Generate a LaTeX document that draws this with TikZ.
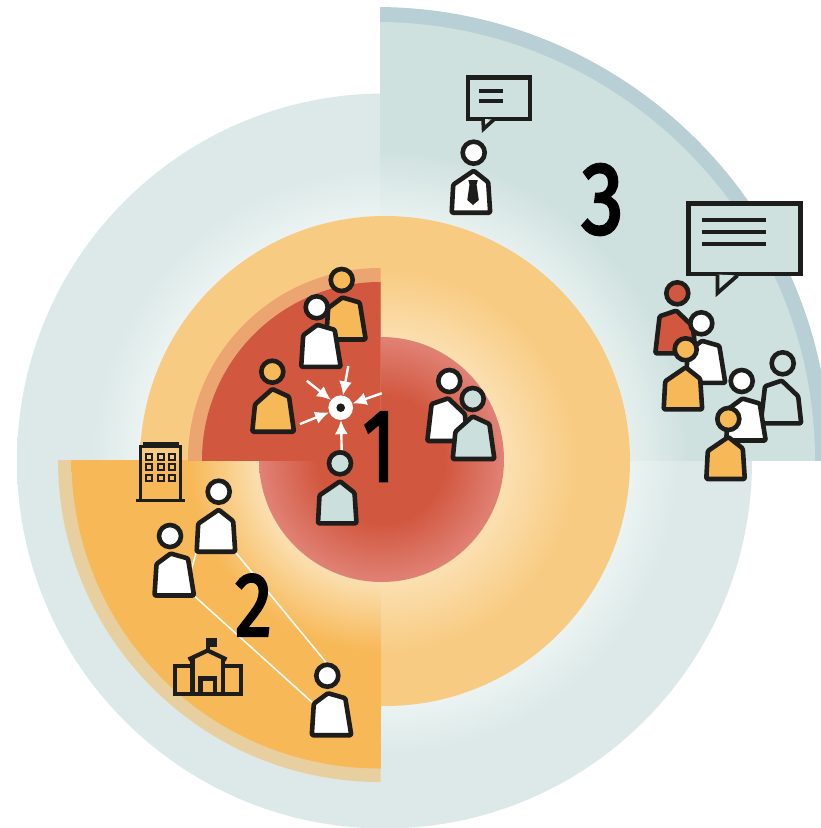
\documentclass[tikz,border=0pt]{standalone}
\usepackage{fontspec}
\usetikzlibrary{arrows.meta}
\newfontfamily\digitfont[FakeBold=3.2]{Fira Sans}
\definecolor{ink}{HTML}{1D1D1B}
\definecolor{redc}{HTML}{D2573F}
\definecolor{redl}{HTML}{E08276}
\definecolor{orgc}{HTML}{F7B857}
\definecolor{orgring}{HTML}{F8CB82}
\definecolor{orgl}{HTML}{FBDFB0}
\definecolor{tealc}{HTML}{CFE1DF}
\definecolor{teall}{HTML}{E8F2F0}
\definecolor{ringl}{HTML}{EAF3F1}
\definecolor{ringc}{HTML}{DCE9E8}
\definecolor{greyp}{HTML}{CBDFDC}
\definecolor{bandt}{HTML}{B8CFD5}
\definecolor{bando}{HTML}{E8CFA0}
\definecolor{bandr}{HTML}{EAA571}
% stops: 25bp = radius of the circle shaded
\pgfdeclareradialshading{ringshade}{\pgfpoint{0bp}{0bp}}{color(0bp)=(ringl);color(16.7bp)=(ringl);color(20bp)=(ringc);color(25bp)=(ringc);color(50bp)=(ringc)}
\pgfdeclareradialshading{sectorthree}{\pgfpoint{0bp}{0bp}}{color(0bp)=(teall);color(13.9bp)=(teall);color(17.7bp)=(tealc);color(25bp)=(tealc);color(50bp)=(tealc)}
\pgfdeclareradialshading{orangeshade}{\pgfpoint{0bp}{0bp}}{color(0bp)=(orgl);color(12.5bp)=(orgl);color(19.5bp)=(orgring);color(25bp)=(orgring);color(50bp)=(orgring)}
\pgfdeclareradialshading{sectortwo}{\pgfpoint{0bp}{0bp}}{color(0bp)=(orgl);color(9.9bp)=(orgl);color(15.5bp)=(orgc);color(25bp)=(orgc);color(50bp)=(orgc)}
\pgfdeclareradialshading{redshade}{\pgfpoint{0bp}{0bp}}{color(0bp)=(redc);color(13bp)=(redc);color(25bp)=(redl);color(50bp)=(redl)}
\tikzset{
  outline/.style={draw=ink,line width=4.6pt,line join=round,rounded corners=1.2pt},
  headring/.style={draw=ink,line width=4.6pt},
  icon/.style={draw=ink,line width=3pt},
  iconfat/.style={draw=ink,line width=4.2pt},
  bubble/.style={draw=ink,line width=4.4pt,fill=tealc,line join=miter},
  barline/.style={draw=ink,line width=4.2pt},
  pointer/.style={draw=white,line width=2.4pt,-{Latex[length=14pt,width=13pt]}},
  digit/.style={inner sep=0pt,text=black},
}
\newcommand{\personP}[3]{\begin{scope}[shift={(#1,#2)}]
  \draw[outline,fill=#3] (-22,60)--(-20.5,32)--(0,18)--(14.5,29.5)--(16.5,60)--cycle;
  \draw[headring,fill=#3] (0,0) circle (11);\end{scope}}
\newcommand{\personQ}[3]{\begin{scope}[shift={(#1,#2)}]
  \draw[outline,fill=#3] (-15.5,59.5)--(-13.5,28)--(0.7,17.5)--(18,22.5)--(24,59.5)--cycle;
  \draw[headring,fill=#3] (0,0) circle (11);\end{scope}}
\newcommand{\personM}[3]{\begin{scope}[shift={(#1,#2)}]
  \draw[outline,fill=#3] (-22,60)--(-17.7,23)--(-1,17.3)--(15.5,33)--(18.5,60)--cycle;
  \draw[headring,fill=#3] (0,0) circle (11);\end{scope}}
\newcommand{\personR}[3]{\begin{scope}[shift={(#1,#2)}]
  \draw[outline,fill=#3] (-20,60)--(-17.3,32.7)--(0,17.3)--(16.7,25)--(21.7,60)--cycle;
  \draw[headring,fill=#3] (0,0) circle (11);\end{scope}}
\begin{document}
\begin{tikzpicture}[x=1pt,y=-1pt]
\useasboundingbox (0,0) rectangle (821,828);
\clip (0,0) rectangle (821,828);
\fill[white] (0,0) rectangle (821,828);
% outer ring
\shade[shading=ringshade] (384.5,461) circle (367.5);
% sector 3
\begin{scope}
  \clip (380,0) rectangle (821,460);
  \fill[bandt] (376,461) circle (454);
  \shade[shading=sectorthree] (376,461) circle (439);
\end{scope}
% orange disc
\shade[shading=orangeshade] (385,461) circle (245);
% sector 2
\begin{scope}
  \clip (0,460) rectangle (380.5,828);
  \fill[bando] (380,460) circle (322);
  \shade[shading=sectortwo] (380,460) circle (308.5);
\end{scope}
% red disc
\shade[shading=redshade] (381.5,459.5) circle (122.5);
% sector 1
\begin{scope}
  \clip (0,0) rectangle (380.5,460);
  \fill[bandr] (380,460) circle (192);
  \fill[redc] (380,460) circle (178);
\end{scope}
% thin links
\coordinate (linkAa) at (235,551.7); \coordinate (linkAb) at (326,662.3);
\coordinate (linkBa) at (194.3,596); \coordinate (linkBb) at (313.3,703.3);
\coordinate (linkCa) at (196,553.3); \coordinate (linkCb) at (191.7,568.3);
\draw[white,line width=1.5pt] (linkAa)--(linkAb);
\draw[white,line width=1.5pt] (linkBa)--(linkBb);
\draw[white,line width=1.5pt] (linkCa)--(linkCb);
% digits
\node[digit,font=\fontsize{102}{102}\digitfont] (one) at (379,446.5) {\scalebox{.72}[1]{1}};
\node[digit,font=\fontsize{90}{90}\digitfont] (two) at (253.5,605) {\scalebox{.82}[1]{2}};
\node[digit,font=\fontsize{102}{102}\digitfont] (three) at (602.5,199.5) {\scalebox{.82}[1]{3}};
% people of sector 1
\personQ{341.7}{280}{orgc}
\personQ{316.7}{307.3}{white}
\personR{272.3}{371.7}{orgc}
\personP{340}{463.3}{greyp}
\personM{449.3}{381}{white}
\personR{472.7}{399}{greyp}
% hub and pointers
\node[circle,fill=white,minimum size=24.6pt,inner sep=0pt] (hub) at (340.7,407.7) {};
\node[circle,fill=ink,minimum size=8.6pt,inner sep=0pt] (hubdot) at (hub) {};
\coordinate (arrA) at (348.3,366);
\coordinate (arrB) at (306.7,380.7);
\coordinate (arrC) at (381.7,393.3);
\coordinate (arrD) at (300,424);
\coordinate (arrE) at (341.7,450);
\foreach \s in {arrA,arrB,arrC,arrD,arrE}{\draw[pointer] (\s)--(hub);}
% people of sector 2
\personP{218.7}{491.7}{white}
\personQ{170}{536}{white}
\personQ{327.3}{675.7}{white}
% office building
\draw[icon] (140,500)--(140,446.7)--(180.7,446.7)--(180.7,500);
\draw[icon] (144,446.7)--(144,443.5)--(177,443.5)--(177,446.7);
\draw[icon] (136,500)--(185,500);
\foreach \wx in {149,160.7,171.7}{\foreach \wy in {457,467.3,477.7}{
  \draw[draw=ink,line width=2pt] (\wx-3,\wy-3) rectangle (\wx+3,\wy+3);}}
% school
\draw[iconfat] (175,666) rectangle (192.5,694);
\draw[iconfat] (223,666) rectangle (241,694);
\draw[iconfat] (192.5,694)--(192.5,658.5);
\draw[iconfat] (223,694)--(223,658.5);
\draw[iconfat,line join=round] (188.5,659.5)--(207.7,650.5)--(226.5,659.5);
\draw[iconfat] (207.7,650.5)--(207.7,640);
\fill[ink] (206,638.3) rectangle (216.7,646.7);
\draw[iconfat] (200.5,694)--(200.5,678.5)--(215,678.5)--(215,694);
\draw[iconfat] (175,694)--(241,694);
% small speech bubble
\draw[bubble] (468,77.3) rectangle (529.7,119);
\draw[draw=ink,line width=3.6pt,fill=tealc,line join=miter] (483,119)--(483.5,129)--(494,119.5);
\draw[barline] (479.3,91)--(503.3,91);
\draw[barline] (479.3,100.7)--(503.3,100.7);
% man with tie
\personP{473.7}{152.7}{white}
\fill[ink] (468.3,180)--(477.8,180)--(476.6,184.5)--(478.8,200)--(473,205)--(467.3,200)--(469.5,184.5)--cycle;
% big speech bubble
\draw[bubble] (688.3,203.3) rectangle (800.3,273.7);
\draw[draw=ink,line width=3.8pt,fill=tealc,line join=miter] (717.5,274.5)--(717.5,293)--(737.5,275.5);
\draw[barline] (701.7,220)--(765.7,220);
\draw[barline] (701.7,232.3)--(765.7,232.3);
\draw[barline] (701.7,244.3)--(765.7,244.3);
% crowd of sector 3
\personM{677.3}{293.3}{redc}
\personQ{701.3}{323.3}{white}
\personP{685.7}{349.3}{orgc}
\personM{782.7}{363.3}{tealc}
\personQ{741.7}{381}{white}
\personP{728.3}{419}{orgc}
\end{tikzpicture}
\end{document}
